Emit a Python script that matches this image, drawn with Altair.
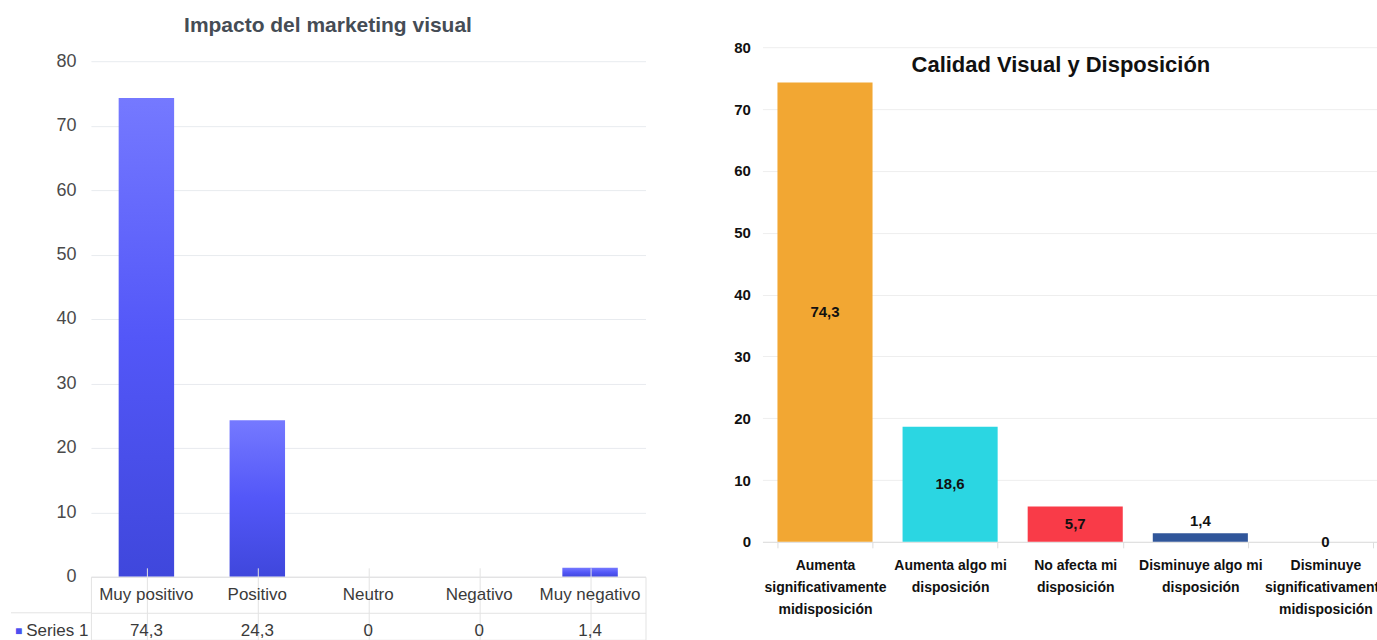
import altair as alt
import pandas as pd

FONT = "Liberation Sans"

# ---------------- data ----------------
left_title = "Impacto del marketing visual"
left_categories = ["Muy positivo", "Positivo", "Neutro", "Negativo", "Muy negativo"]
left_values = [74.3, 24.3, 0, 0, 1.4]
series_name = "Series 1"

right_title = "Calidad Visual y Disposición"
right_categories = [
    "Aumenta\nsignificativamente\nmidisposición",
    "Aumenta algo mi\ndisposición",
    "No afecta mi\ndisposición",
    "Disminuye algo mi\ndisposición",
    "Disminuye\nsignificativamente\nmidisposición",
]
right_values = [74.3, 18.6, 5.7, 1.4, 0]
right_colors = ["#f2a733", "#2bd6e2", "#f93b48", "#30569a", "#888888"]

y_ticks = [0, 10, 20, 30, 40, 50, 60, 70, 80]


def fmt(v):
    return f"{v:g}".replace(".", ",")


df_left = pd.DataFrame({"cat": left_categories, "value": left_values})
table_rows = []
for c, v in zip(left_categories, left_values):
    table_rows.append({"cat": c, "row": "cat", "text": c})
    table_rows.append({"cat": c, "row": "val", "text": fmt(v)})
df_table = pd.DataFrame(table_rows)
df_series = pd.DataFrame({"row": ["val"], "label": [series_name]})

df_right = pd.DataFrame({
    "cat": right_categories,
    "value": right_values,
    "color": right_colors,
    "label": [fmt(v) for v in right_values],
})

# ---------------- left panel ----------------
grad = alt.Gradient(
    gradient="linear",
    stops=[alt.GradientStop(color="#7579ff", offset=0),
           alt.GradientStop(color="#5357f8", offset=0.5),
           alt.GradientStop(color="#3f47dc", offset=1)],
    x1=0, x2=0, y1=0, y2=1,
)

spacer = alt.Chart(pd.DataFrame({"s": [0]})).mark_point(opacity=0).encode(
    x=alt.value(0), y=alt.value(0)
).properties(width=555, height=14)

bars_left = alt.Chart(df_left).mark_bar(color=grad).encode(
    x=alt.X("cat:N", sort=left_categories, axis=None,
            scale=alt.Scale(paddingInner=0.5, paddingOuter=0.25)),
    y=alt.Y("value:Q", scale=alt.Scale(domain=[0, 80]),
            axis=alt.Axis(values=y_ticks, title=None, domain=False, ticks=False,
                          labelFontSize=18, labelColor="#4a4a4a", labelFont=FONT,
                          labelPadding=15, gridColor="#e8ebef")),
).properties(width=555, height=516)

table_text = alt.Chart(df_table).mark_text(font=FONT, fontSize=17, color="#3a3a3a").encode(
    x=alt.X("cat:N", sort=left_categories,
            scale=alt.Scale(paddingInner=0, paddingOuter=0),
            axis=alt.Axis(labels=False, ticks=False, domain=False, title=None,
                          grid=True, bandPosition=0, gridColor="#e3e3e3")),
    y=alt.Y("row:N", sort=["cat", "val"],
            scale=alt.Scale(domain=["cat", "val"], range=[0, 72],
                            paddingInner=0, paddingOuter=0),
            axis=alt.Axis(title=None, ticks=False, domain=False, grid=True,
                          bandPosition=0, gridColor="#e3e3e3",
                          labelExpr=f"datum.value == 'val' ? '{series_name}' : ''",
                          labelFontSize=17, labelFont=FONT, labelColor="#3a3a3a",
                          labelPadding=3)),
    text="text:N",
)

ext_rule = alt.Chart(df_series).mark_rule(color="#e3e3e3").encode(
    x=alt.value(-80), x2=alt.value(0),
    y=alt.Y("row:N", bandPosition=0),
)

square = alt.Chart(df_series).mark_text(text="■", align="left", color="#4b50f0",
                                        fontSize=12).encode(
    x=alt.value(-76), y=alt.Y("row:N"),
)

table = alt.layer(table_text, ext_rule, square).properties(
    width=555, height=63, view=alt.ViewBackground(stroke="#e3e3e3")
)

left_col = alt.vconcat(
    spacer, bars_left, table, spacing=0, bounds="flush",
    title=alt.Title(left_title, font=FONT, fontSize=21, fontWeight="bold",
                    color="#454c55", anchor="middle", frame="bounds", offset=8),
)

# ---------------- right panel ----------------
xr = alt.X("cat:N", sort=right_categories,
           scale=alt.Scale(paddingInner=0.24, paddingOuter=0.12),
           axis=alt.Axis(title=None, labelAngle=0,
                         labelExpr="split(datum.label, '\\n')",
                         labelFont=FONT, labelFontSize=14, labelFontWeight="bold",
                         labelColor="#111111", labelLineHeight=22,
                         labelBaseline="top", labelPadding=11,
                         domainColor="#dddddd", tickColor="#dddddd",
                         tickBand="extent", tickSize=6, labelLimit=300))

base_r = alt.Chart(df_right)
bars_r = base_r.mark_bar().encode(
    x=xr,
    y=alt.Y("value:Q", scale=alt.Scale(domain=[0, 80]),
            axis=alt.Axis(values=y_ticks, title=None, domain=False, ticks=False,
                          labelFont=FONT, labelFontSize=15, labelFontWeight="bold",
                          labelColor="#111111", labelPadding=12,
                          gridColor="#eeeeee")),
    color=alt.Color("color:N", scale=None),
)

txt_props = dict(font=FONT, fontSize=15, fontWeight="bold", color="#111111")
lab_big = base_r.transform_filter("datum.value >= 5").transform_calculate(
    mid="datum.value / 2").mark_text(**txt_props).encode(
    x=alt.X("cat:N", sort=right_categories), y="mid:Q", text="label:N")
lab_small = base_r.transform_filter("datum.value > 0 && datum.value < 5").mark_text(
    dy=-12, **txt_props).encode(
    x=alt.X("cat:N", sort=right_categories), y="value:Q", text="label:N")
lab_zero = base_r.transform_filter("datum.value == 0").mark_text(**txt_props).encode(
    x=alt.X("cat:N", sort=right_categories), y="value:Q", text="label:N")

right_chart = alt.layer(bars_r, lab_big, lab_small, lab_zero).properties(
    width=626, height=495,
    title=alt.Title(right_title, font=FONT, fontSize=22, fontWeight="bold",
                    color="#111111", anchor="middle", frame="bounds", offset=-37),
)

chart = alt.hconcat(left_col, right_chart, spacing=87).properties(
    padding={"top": 15, "left": 10, "right": -11, "bottom": -6},
    background="white",
).configure_view(stroke=None)

chart.save("out.html", embed_options={"renderer": "svg", "actions": False})
